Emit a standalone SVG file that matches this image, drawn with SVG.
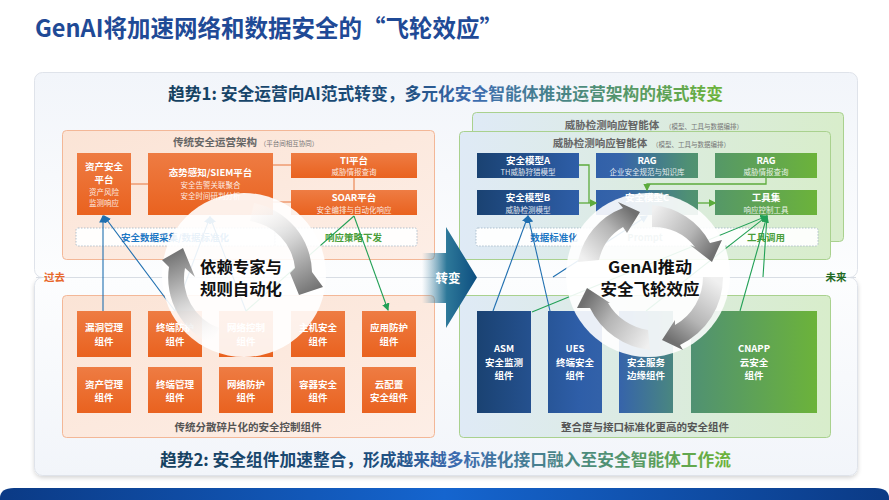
<svg xmlns="http://www.w3.org/2000/svg" width="889" height="500" viewBox="0 0 889 500">
<style>
text{font-family:"Noto Sans CJK SC","Noto Sans",sans-serif;text-anchor:middle}
.t{fill:#fff;font-size:9.5px;font-weight:700}
.s{fill:#fff;font-size:7.5px;fill-opacity:.88}
.c{fill:#555;font-size:10.5px;font-weight:700}
.h{fill:#666;font-size:10.5px;font-weight:700}
.m{fill:#777;font-size:6.5px}
.o{fill:url(#org)}
.n{fill:url(#nodeG)}
.d{fill:#fff;fill-opacity:.92;stroke:#9fb4c4;stroke-width:.8;stroke-dasharray:1.5 1.5}
.b{fill:none;stroke:#1f6fb0;stroke-width:1.1}
.g{fill:none;stroke:#22a056;stroke-width:1.1}
.lg{fill:none;stroke:#5cab3c;stroke-width:1.3}
.ol{fill:none;stroke:#e8743b;stroke-width:1}
.big{fill:#111;font-size:15.5px;font-weight:700}
</style>
<defs>
<linearGradient id="org" x1="0" y1="0" x2="0" y2="1"><stop offset="0" stop-color="#ee7c43"/><stop offset="1" stop-color="#e9621f"/></linearGradient>
<linearGradient id="nodeG" gradientUnits="userSpaceOnUse" x1="477" y1="0" x2="817" y2="0"><stop offset="0" stop-color="#1a4272"/><stop offset=".3" stop-color="#2e5ea8"/><stop offset=".42" stop-color="#3664aa"/><stop offset=".62" stop-color="#4f9074"/><stop offset="1" stop-color="#6cb33a"/></linearGradient>
<linearGradient id="pnlO" x1="0" y1="0" x2="1" y2="1"><stop offset="0" stop-color="#fbe4d6"/><stop offset="1" stop-color="#fdeee6"/></linearGradient>
<linearGradient id="pnlG" x1="0" y1="0" x2="1" y2="0"><stop offset="0" stop-color="#dfeaf6"/><stop offset="1" stop-color="#d8edcb"/></linearGradient>
<linearGradient id="cardT" x1="0" y1="0" x2="0" y2="1"><stop offset="0" stop-color="#f2f5fa"/><stop offset="1" stop-color="#fcfdfe"/></linearGradient>
<linearGradient id="cardB" x1="0" y1="0" x2="0" y2="1"><stop offset="0" stop-color="#fcfdfe"/><stop offset="1" stop-color="#f2f5fa"/></linearGradient>
<linearGradient id="tr1" gradientUnits="userSpaceOnUse" x1="168" y1="0" x2="723" y2="0"><stop offset="0" stop-color="#16405f"/><stop offset=".42" stop-color="#1d4d7c"/><stop offset=".55" stop-color="#3d6cb0"/><stop offset=".78" stop-color="#4f9074"/><stop offset="1" stop-color="#6cb33a"/></linearGradient>
<linearGradient id="tr2" gradientUnits="userSpaceOnUse" x1="160" y1="0" x2="731" y2="0"><stop offset="0" stop-color="#16405f"/><stop offset=".38" stop-color="#1d4d7c"/><stop offset=".52" stop-color="#3d6cb0"/><stop offset=".78" stop-color="#4f9074"/><stop offset="1" stop-color="#6cb33a"/></linearGradient>
<linearGradient id="bar" x1="0" y1="0" x2="1" y2="0"><stop offset="0" stop-color="#0b3a85"/><stop offset=".5" stop-color="#1565cf"/><stop offset="1" stop-color="#0b3a85"/></linearGradient>
<linearGradient id="shift" gradientUnits="userSpaceOnUse" x1="422" y1="0" x2="477" y2="0"><stop offset="0" stop-color="#5f94ae" stop-opacity="0"/><stop offset=".45" stop-color="#2d7899"/><stop offset="1" stop-color="#0d4e80"/></linearGradient>
<linearGradient id="a1" gradientUnits="userSpaceOnUse" x1="215" y1="340" x2="175" y2="250"><stop offset="0" stop-color="#fff" stop-opacity=".2"/><stop offset=".55" stop-color="#c4c4c4"/><stop offset="1" stop-color="#707070"/></linearGradient>
<linearGradient id="a2" gradientUnits="userSpaceOnUse" x1="255" y1="205" x2="310" y2="295"><stop offset="0" stop-color="#fff" stop-opacity=".2"/><stop offset=".55" stop-color="#c4c4c4"/><stop offset="1" stop-color="#707070"/></linearGradient>
<linearGradient id="a3" gradientUnits="userSpaceOnUse" x1="585" y1="260" x2="632" y2="212"><stop offset="0" stop-color="#f0f0f0"/><stop offset=".6" stop-color="#b5b5b5"/><stop offset="1" stop-color="#707070"/></linearGradient>
<linearGradient id="a4" gradientUnits="userSpaceOnUse" x1="652" y1="212" x2="712" y2="255"><stop offset="0" stop-color="#f0f0f0"/><stop offset=".6" stop-color="#b5b5b5"/><stop offset="1" stop-color="#707070"/></linearGradient>
<linearGradient id="a5" gradientUnits="userSpaceOnUse" x1="712" y1="278" x2="668" y2="338"><stop offset="0" stop-color="#f0f0f0"/><stop offset=".6" stop-color="#b5b5b5"/><stop offset="1" stop-color="#707070"/></linearGradient>
<linearGradient id="a6" gradientUnits="userSpaceOnUse" x1="650" y1="342" x2="585" y2="300"><stop offset="0" stop-color="#f0f0f0"/><stop offset=".6" stop-color="#b5b5b5"/><stop offset="1" stop-color="#707070"/></linearGradient>
<filter id="sh" x="-3%" y="-3%" width="106%" height="108%"><feDropShadow dx="0" dy="2" stdDeviation="2" flood-color="#000" flood-opacity=".16"/></filter>
<marker id="mb" markerWidth="7" markerHeight="7" refX="6" refY="3.500" orient="auto"><path d="M0,0L7,3.500L0,7Z" fill="#1f6fb0"/></marker>
<marker id="mg" markerWidth="7" markerHeight="7" refX="6" refY="3.500" orient="auto"><path d="M0,0L7,3.500L0,7Z" fill="#22a056"/></marker>
<marker id="ml" markerWidth="6" markerHeight="6" refX="5" refY="3" orient="auto"><path d="M0,0L6,3L0,6Z" fill="#5cab3c"/></marker>
</defs>
<rect width="889" height="500" fill="#fff"/>
<text x="35" y="37" textLength="468" lengthAdjust="spacingAndGlyphs" style="text-anchor:start;font-size:24px;font-weight:700;fill:#1f4a96">GenAI将加速网络和数据安全的“飞轮效应”</text>
<g id="card-bottom"><rect x="34.500" y="277.500" width="823" height="198" rx="8" fill="url(#cardB)" stroke="#dfe3ea" filter="url(#sh)"/></g>
<g id="card-top"><rect x="34.500" y="72.500" width="823" height="205" rx="8" fill="url(#cardT)" stroke="#dfe3ea"/></g>
<path d="M36,277.500H43M66,277.500H824M848,277.500H856" stroke="#d8dde4" fill="none"/>
<text x="445.500" y="100" textLength="555" lengthAdjust="spacingAndGlyphs" style="font-size:16.5px;font-weight:700;fill:url(#tr1)">趋势1: 安全运营向AI范式转变，多元化安全智能体推进运营架构的模式转变</text>
<text x="445.500" y="466" textLength="571" lengthAdjust="spacingAndGlyphs" style="font-size:16.5px;font-weight:700;fill:url(#tr2)">趋势2: 安全组件加速整合，形成越来越多标准化接口融入至安全智能体工作流</text>
<text x="54.500" y="281" style="font-size:10.500px;font-weight:700;fill:#e8672a">过去</text>
<text x="836" y="281" style="font-size:10.500px;font-weight:700;fill:#1f6a24">未来</text>

<g id="panel-legacy"><rect x="62.500" y="130.500" width="372" height="129" rx="4" fill="url(#pnlO)" stroke="#f3b797"/>
<text x="215" y="146" class="h">传统安全运营架构</text><text x="289" y="146" class="m">（平台间相互协同）</text></g>
<g id="panel-components"><rect x="62.500" y="295.500" width="372" height="142" rx="4" fill="url(#pnlO)" stroke="#f3b797"/>
<text x="248" y="431" class="c">传统分散碎片化的安全控制组件</text></g>
<g id="panel-agent-back"><rect x="472.500" y="112.500" width="371" height="129" rx="4" fill="url(#pnlG)" stroke="#a9d18e"/>
<text x="612" y="129" class="h">威胁检测响应智能体</text><text x="704" y="129" class="m">（模型、工具与数据编排）</text></g>
<g id="panel-agent-front"><rect x="459.500" y="131.500" width="371" height="128" rx="4" fill="url(#pnlG)" stroke="#a9d18e"/>
<text x="600" y="147" class="h">威胁检测响应智能体</text><text x="691" y="147" class="m">（模型、工具与数据编排）</text></g>
<g id="panel-integrated"><rect x="459.500" y="295.500" width="371" height="142" rx="4" fill="url(#pnlG)" stroke="#a9d18e"/>
<text x="645" y="431" class="c">整合度与接口标准化更高的安全组件</text></g>

<g id="node-asset-platform"><rect x="77" y="153" width="54" height="62" class="o"/><text x="104" y="170" class="t">资产安全</text><text x="104" y="183" class="t">平台</text><text x="104" y="195" class="s">资产风险</text><text x="104" y="206" class="s">监测响应</text></g>
<g id="node-siem"><rect x="148" y="153" width="125" height="62" class="o"/><text x="210.500" y="176" class="t">态势感知/SIEM平台</text><text x="210.500" y="188" class="s">安全告警关联聚合</text><text x="210.500" y="199" class="s">安全时间研判分析</text></g>
<g id="node-ti"><rect x="291" y="153" width="126" height="25" class="o"/><text x="354" y="164" class="t">TI平台</text><text x="354" y="175" class="s">威胁情报查询</text></g>
<g id="node-soar"><rect x="291" y="190" width="126" height="25" class="o"/><text x="354" y="201" class="t">SOAR平台</text><text x="354" y="213" class="s">安全编排与自动化响应</text></g>
<g id="node-data-legacy"><rect x="76" y="228" width="199" height="18" rx="2" class="d"/><text x="175" y="241" style="font-size:9.500px;font-weight:700;fill:#1f78c4">安全数据采集/数据标准化</text></g>
<g id="node-policy"><rect x="275" y="228" width="142" height="18" rx="2" class="d"/><text x="353.500" y="241" style="font-size:9.500px;font-weight:700;fill:#4a9e3a">响应策略下发</text></g>

<g id="node-vuln"><rect x="77" y="311" width="54" height="46" class="o"/><text x="104" y="331" class="t">漏洞管理</text><text x="104" y="345" class="t">组件</text></g>
<g id="node-endpoint-protect"><rect x="148" y="311" width="54" height="46" class="o"/><text x="175" y="331" class="t">终端防护</text><text x="175" y="345" class="t">组件</text></g>
<g id="node-net-control"><rect x="219" y="311" width="54" height="46" class="o"/><text x="246" y="331" class="t">网络控制</text><text x="246" y="345" class="t">组件</text></g>
<g id="node-host"><rect x="291" y="311" width="54" height="46" class="o"/><text x="318" y="331" class="t">主机安全</text><text x="318" y="345" class="t">组件</text></g>
<g id="node-app"><rect x="362" y="311" width="54" height="46" class="o"/><text x="389" y="331" class="t">应用防护</text><text x="389" y="345" class="t">组件</text></g>
<g id="node-asset"><rect x="77" y="367" width="54" height="46" class="o"/><text x="104" y="388" class="t">资产管理</text><text x="104" y="401" class="t">组件</text></g>
<g id="node-endpoint-manage"><rect x="148" y="367" width="54" height="46" class="o"/><text x="175" y="388" class="t">终端管理</text><text x="175" y="401" class="t">组件</text></g>
<g id="node-net-protect"><rect x="219" y="367" width="54" height="46" class="o"/><text x="246" y="388" class="t">网络防护</text><text x="246" y="401" class="t">组件</text></g>
<g id="node-container"><rect x="291" y="367" width="54" height="46" class="o"/><text x="318" y="388" class="t">容器安全</text><text x="318" y="401" class="t">组件</text></g>
<g id="node-cloud"><rect x="362" y="367" width="54" height="46" class="o"/><text x="389" y="388" class="t">云配置</text><text x="389" y="401" class="t">安全组件</text></g>

<g id="node-model-a"><rect x="477" y="153" width="102" height="25" class="n"/><text x="528" y="164" class="t">安全模型A</text><text x="528" y="175" class="s">TH威胁狩猎模型</text></g>
<g id="node-model-b"><rect x="477" y="190" width="102" height="25" class="n"/><text x="528" y="201" class="t">安全模型B</text><text x="528" y="213" class="s">威胁检测模型</text></g>
<g id="node-rag1"><rect x="596" y="153" width="102" height="25" class="n"/><text x="647" y="164" class="t">RAG</text><text x="647" y="175" class="s">企业安全规范与知识库</text></g>
<g id="node-model-c"><rect x="596" y="190" width="102" height="25" class="n"/><text x="647" y="201" class="t">安全模型C</text></g>
<g id="node-rag2"><rect x="715" y="153" width="102" height="25" class="n"/><text x="766" y="164" class="t">RAG</text><text x="766" y="175" class="s">威胁情报查询</text></g>
<g id="node-tools"><rect x="715" y="190" width="102" height="25" class="n"/><text x="766" y="201" class="t">工具集</text><text x="766" y="213" class="s">响应控制工具</text></g>
<g id="node-data-new"><rect x="476" y="228" width="342" height="18" rx="2" class="d"/><text x="554" y="241" style="font-size:9.500px;font-weight:700;fill:#1f78c4">数据标准化</text><text x="645" y="241" style="font-size:9.500px;font-weight:700;fill:#8aa">Prompt</text><text x="766" y="241" style="font-size:9.500px;font-weight:700;fill:#4a9e3a">工具调用</text></g>

<g id="node-asm"><rect x="477" y="311" width="54" height="102" class="n"/><text x="504" y="352" class="t">ASM</text><text x="504" y="366" class="t">安全监测</text><text x="504" y="379" class="t">组件</text></g>
<g id="node-ues"><rect x="548" y="311" width="54" height="102" class="n"/><text x="575" y="352" class="t">UES</text><text x="575" y="366" class="t">终端安全</text><text x="575" y="379" class="t">组件</text></g>
<g id="node-sse"><rect x="619" y="311" width="54" height="102" class="n"/><text x="646" y="366" class="t">安全服务</text><text x="646" y="379" class="t">边缘组件</text></g>
<g id="node-cnapp"><rect x="691" y="311" width="126" height="102" class="n"/><text x="754" y="352" class="t">CNAPP</text><text x="754" y="366" class="t">云安全</text><text x="754" y="379" class="t">组件</text></g>

<g id="connectors">
<path class="ol" d="M131,184H148M273,165H291M273,202H291M354,178V190"/>
<path class="b" marker-end="url(#mb)" d="M103,311V216"/>
<path class="b" marker-end="url(#mb)" d="M175,311L104,216"/>
<path class="b" marker-end="url(#mb)" d="M175,311L210,217"/>
<path class="b" marker-end="url(#mb)" d="M246,311L210,217"/>
<path class="g" marker-end="url(#mg)" d="M354,216L388,310"/>
<path class="g" d="M354,216L246,311"/>
<path class="lg" d="M579,165H589V203"/>
<path class="lg" marker-end="url(#ml)" d="M579,203H596"/>
<path class="lg" marker-end="url(#ml)" d="M698,203H715"/>
<path class="lg" marker-end="url(#ml)" d="M766,178V184H647V190"/>
<path class="b" marker-end="url(#mb)" d="M493,311L528,216"/>
<path class="b" marker-end="url(#mb)" d="M550,311L528,216"/>
<path class="b" marker-end="url(#mb)" d="M553,277L647,216"/>
<path class="g" marker-end="url(#mg)" d="M532,312L767,216"/>
<path class="g" marker-end="url(#mg)" d="M740,311L767,216"/>
<path class="g" d="M763,277L767,216M646,311L767,216"/>
</g>

<g id="shift"><path d="M422,253H446V227L477,277.500L446,328V303H422Z" fill="url(#shift)"/><text x="448" y="283" style="fill:#fff;font-size:12.500px;font-weight:700">转变</text></g>

<g id="flywheel-legacy"><circle cx="244" cy="275" r="82" fill="#fff" fill-opacity=".9"/>
<path fill="url(#a1)" d="M169,267A72,72 0 0 0 212,344L219,328A53,53 0 0 1 185,268L195,277L183,248L162,260Z"/>
<path fill="url(#a2)" d="M254,203A72,72 0 0 1 312,272L323,287L299,295L290,273L295,268A53,53 0 0 0 250,221Z"/>
<text x="241" y="272.500" textLength="82" lengthAdjust="spacingAndGlyphs" class="big">依赖专家与</text>
<text x="241" y="295" textLength="82" lengthAdjust="spacingAndGlyphs" class="big">规则自动化</text></g>

<g id="flywheel-genai"><circle cx="648" cy="275" r="82" fill="#fff" fill-opacity=".9"/>
<path fill="url(#a3)" d="M578,262A71,71 0 0 1 623,208L618,202L640,212L627,233L623,227A51,51 0 0 0 599,260Z"/>
<path fill="url(#a4)" d="M652,205A72,72 0 0 1 710,243L722,240L712,262L690,245L695,247A52,52 0 0 0 652,227Z"/>
<path fill="url(#a5)" d="M723,277A75,75 0 0 1 680,345L683,350L662,340L675,320L675,325A55,55 0 0 0 703,277Z"/>
<path fill="url(#a6)" d="M650,350A75,75 0 0 1 590,308L577,308L587,288L610,303L608,303A55,55 0 0 0 648,330Z"/>
<text x="650" y="272.500" textLength="84" lengthAdjust="spacingAndGlyphs" class="big">GenAI推动</text>
<text x="650" y="295" textLength="99" lengthAdjust="spacingAndGlyphs" class="big">安全飞轮效应</text></g>

<path id="footer-bar" d="M0,500V498Q0,488 14,488H875Q889,488 889,498V500Z" fill="url(#bar)"/>
</svg>
